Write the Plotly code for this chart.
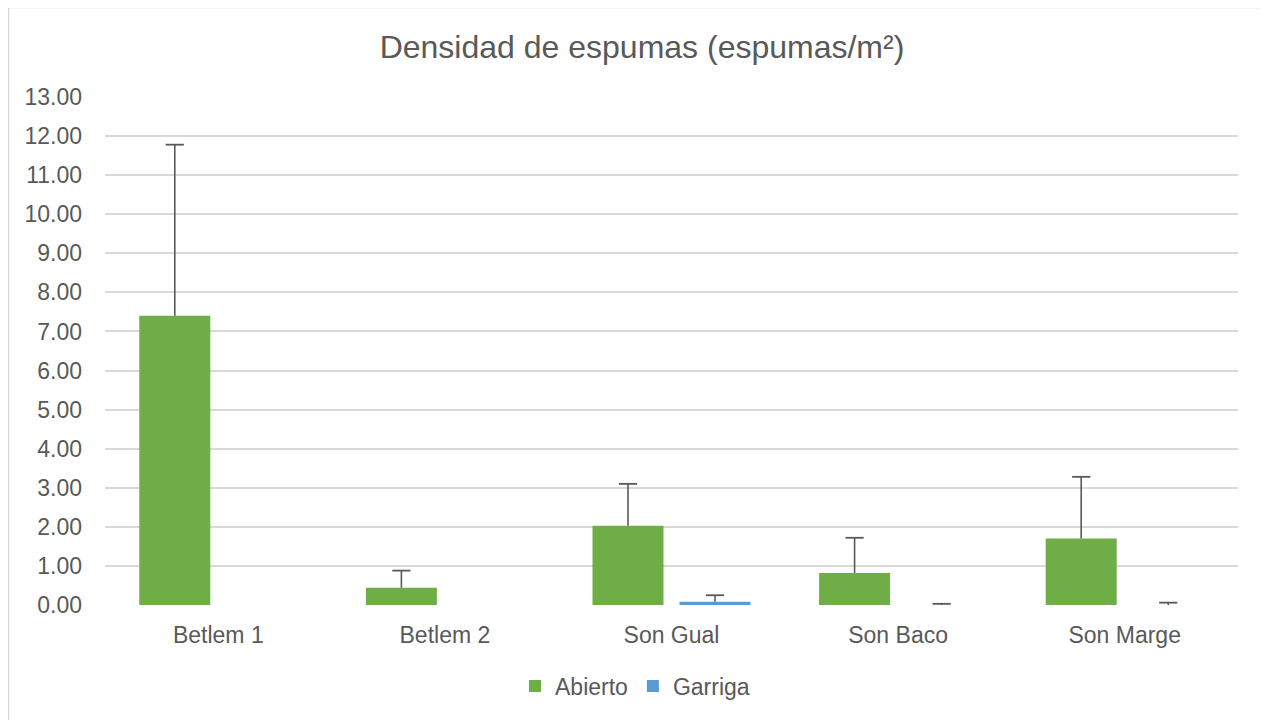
import plotly.graph_objects as go

categories = ["Betlem 1", "Betlem 2", "Son Gual", "Son Baco", "Son Marge"]
abierto = [7.40, 0.44, 2.03, 0.82, 1.70]
abierto_err = [4.38, 0.44, 1.07, 0.90, 1.58]
garriga = [0.0, 0.0, 0.08, 0.0, 0.0]
garriga_err = [None, None, 0.17, 0.03, 0.06]
y_ticks = list(range(0, 14))
y_ticklabels = [f"{v:.2f}" for v in y_ticks]

TXT = "#595959"
ERR = "#595959"
FONT = "Liberation Sans, Arial, sans-serif"

def tops(vals, errs):
    return [None if e is None else v + e for v, e in zip(vals, errs)]

fig = go.Figure()
series = [("Abierto", abierto, abierto_err, "#6FAD46"),
          ("Garriga", garriga, garriga_err, "#5B9BD5")]
for name, vals, errs, col in series:
    fig.add_trace(go.Bar(
        name=name, x=categories, y=vals, offsetgroup=name,
        marker=dict(color=col, line=dict(width=0)),
        error_y=dict(type="data", array=[0 if e is None else e for e in errs],
                     arrayminus=[0]*len(errs), symmetric=False,
                     color=ERR, thickness=1.6, width=0,
                     visible=True),
    ))
for name, vals, errs, col in series:
    fig.add_trace(go.Scatter(
        x=categories, y=tops(vals, errs), mode="markers", offsetgroup=name,
        showlegend=False, hoverinfo="skip",
        marker=dict(symbol="line-ew", size=13, color=ERR,
                    line=dict(color=ERR, width=1.8)),
    ))

# plot area in figure pixels (page has an 8px body margin)
L, R, T, B = 97, 1230, 89, 597
W, H = R - L, B - T

fig.update_layout(
    width=1268, height=720,
    paper_bgcolor="white", plot_bgcolor="white",
    margin=dict(l=L, r=1268 - R, t=T, b=720 - B),
    barmode="group", bargap=0.232, bargroupgap=0.184,
    scattermode="group", scattergap=0.232,
    font=dict(family=FONT, color=TXT, size=23),
    title=dict(text="Densidad de espumas (espumas/m²)", x=0.5, xanchor="center",
               y=1 - 39/720, yanchor="middle", font=dict(size=32, color=TXT, family=FONT)),
    showlegend=True,
    legend=dict(orientation="h", x=(635 - 8 - L)/W, xanchor="center",
                y=(B - (686 - 8))/H, yanchor="middle",
                font=dict(size=23, color=TXT), traceorder="normal"),
    yaxis=dict(range=[0, 13], tickvals=y_ticks, ticktext=y_ticklabels,
               showgrid=True, gridcolor="#D9D9D9", gridwidth=1.5,
               zeroline=False, showline=False, ticks="",
               ticklabelstandoff=22, tickfont=dict(size=23, color=TXT)),
    xaxis=dict(showgrid=False, zeroline=False, showline=False, ticks="",
               ticklabelstandoff=14, tickfont=dict(size=23, color=TXT)),
    shapes=[dict(type="rect", xref="paper", yref="paper",
                 x0=(0.5 - L)/W, x1=(1257 - L)/W,
                 y0=(B - 730)/H, y1=(B + 0.5)/H,
                 line=dict(color="#D9D9D9", width=1.5), fillcolor="rgba(0,0,0,0)",
                 layer="below")],
)

fig.write_html("out.html")
